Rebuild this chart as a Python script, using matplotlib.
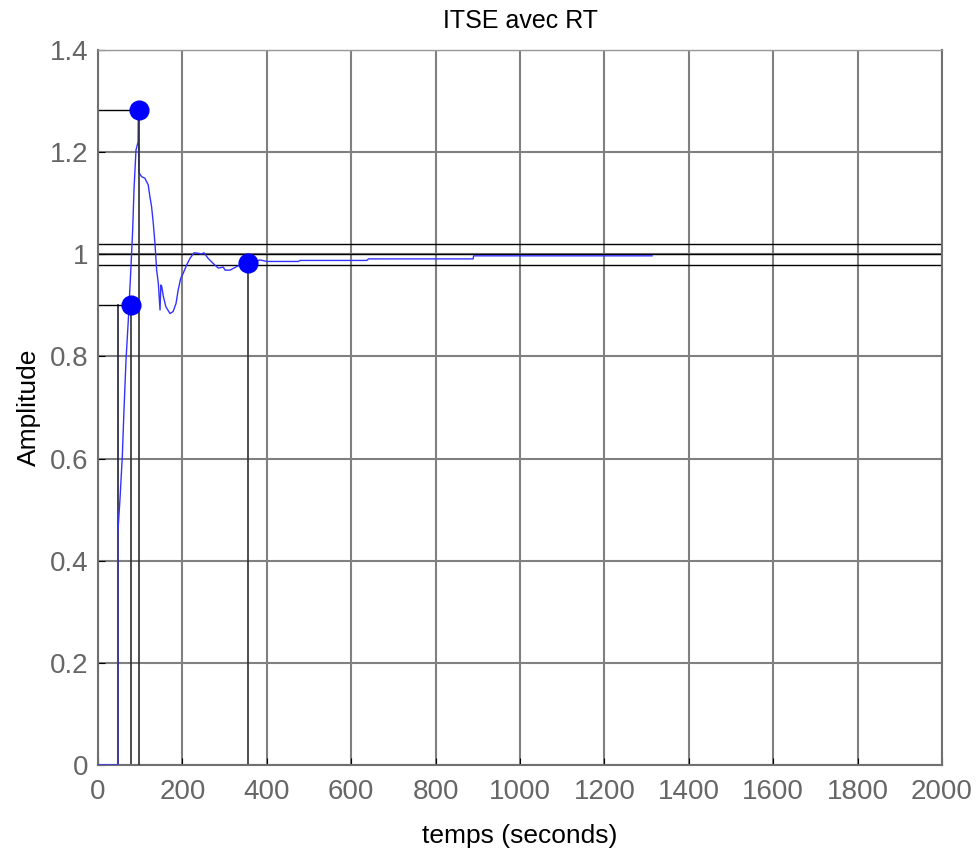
import matplotlib
matplotlib.use("Agg")
import matplotlib.pyplot as plt

plt.rcParams['font.family'] = ['Liberation Sans', 'DejaVu Sans']

# step response
t = [0, 46.6, 46.6, 52, 57.6, 61.6, 66.4, 71.8, 77.4, 82.2, 85.3, 90, 95, 96, 97,
     103.4, 111, 119, 123, 127, 131, 135, 139, 143, 147, 149, 151, 155, 161, 170.6,
     178, 185, 190, 196, 202, 210, 218, 227.5, 237.7, 245.7, 251, 261, 273, 285,
     297, 301, 313, 328.6, 344, 356, 384, 400, 475, 479, 637, 641, 889, 890, 1313]
y = [0, 0, 0.45, 0.519, 0.604, 0.695, 0.793, 0.871, 0.963, 1.048, 1.126, 1.204, 1.22, 1.28, 1.16,
     1.152, 1.149, 1.136, 1.113, 1.093, 1.061, 1.021, 0.969, 0.943, 0.891, 0.94, 0.937, 0.917, 0.897, 0.884,
     0.888, 0.904, 0.930, 0.953, 0.963, 0.979, 0.992, 1.003, 1.002, 1.0006, 1.003, 0.992, 0.982, 0.973,
     0.975, 0.969, 0.969, 0.976, 0.981, 0.982, 0.989, 0.986, 0.986, 0.988, 0.988, 0.991, 0.991, 0.997, 0.997]

# characteristic points: rise time, peak, settling
rise_start = 46.6
rise_t, rise_y = 77.4, 0.9
peak_t, peak_y = 96, 1.282
settle_t, settle_y = 356, 0.982
bands = [1.02, 1.0, 0.98]

fig = plt.figure(figsize=(9.78, 8.49), dpi=100)
ax = fig.add_axes([0.1002, 0.0989, 0.863, 0.8422])

ax.grid(True, color='#808080', linewidth=1.5, linestyle='-')
ax.set_axisbelow(True)

ax.plot(t, y, color='#3333ff', linewidth=1.0, zorder=3)

for b in bands:
    ax.axhline(b, color='black', linewidth=1.0, zorder=2)

ax.plot([rise_start, rise_start], [0, rise_y], color='#202040', linewidth=1.2, zorder=2)
ax.plot([0, rise_t], [rise_y, rise_y], color='black', linewidth=1.0, zorder=2)
ax.plot([rise_t, rise_t], [0, rise_y], color='#303030', linewidth=1.2, zorder=2)
ax.plot([0, peak_t], [peak_y, peak_y], color='black', linewidth=1.0, zorder=2)
ax.plot([peak_t, peak_t], [0, peak_y], color='#303030', linewidth=1.2, zorder=4)
ax.plot([settle_t, settle_t], [0, settle_y], color='#303030', linewidth=1.2, zorder=2)

ax.plot([rise_t, peak_t, settle_t], [rise_y, peak_y, settle_y], 'o', color='blue',
        markersize=13.5, linestyle='none', zorder=5)

ax.set_xlim(0, 2000)
ax.set_ylim(0, 1.4)
ax.set_xticks(range(0, 2001, 200))
ax.set_yticks([0, 0.2, 0.4, 0.6, 0.8, 1, 1.2, 1.4])
ax.set_yticklabels(['0', '0.2', '0.4', '0.6', '0.8', '1', '1.2', '1.4'])
ax.tick_params(direction='in', length=5, labelsize=20, labelcolor='#666666', color='black', pad=7)
ax.tick_params(axis='x', pad=10)
for s in ax.spines.values():
    s.set_color('#707070')
    s.set_linewidth(1.5)
ax.spines['top'].set_color('#999999')
ax.spines['top'].set_linewidth(1.0)

ax.set_title('ITSE avec RT', fontsize=18, pad=16)
ax.set_xlabel('temps (seconds)', fontsize=19, labelpad=14)
ax.set_ylabel('Amplitude', fontsize=19, labelpad=6)

fig.savefig('out.png', dpi=100)
